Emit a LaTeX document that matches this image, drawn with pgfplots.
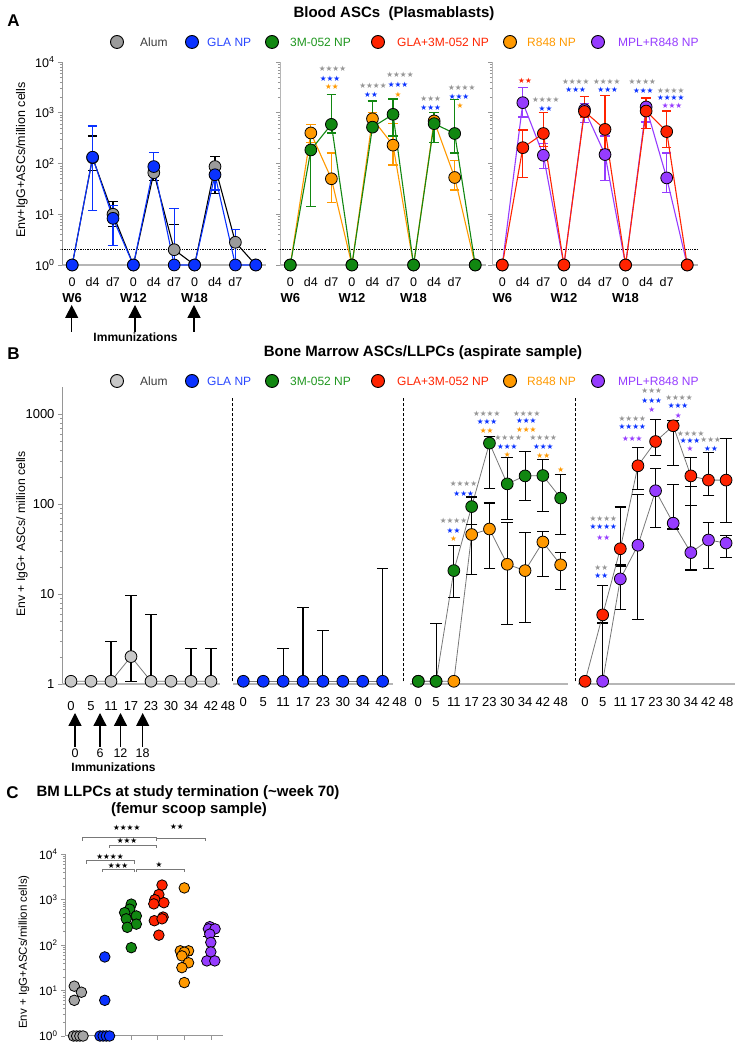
\documentclass[border=0pt]{standalone}
\usepackage{fontspec}
\setmainfont{Liberation Sans}
\newfontfamily\djv{DejaVu Sans}
\usepackage{pgfplots}
\pgfplotsset{compat=1.18}
\usetikzlibrary{arrows.meta}

\definecolor{alumA}{RGB}{155,155,155}
\definecolor{alumB}{RGB}{200,200,200}
\definecolor{alumC}{RGB}{165,165,165}
\definecolor{cblue}{RGB}{10,50,255}
\definecolor{cgreen}{RGB}{17,135,17}
\definecolor{cred}{RGB}{255,35,0}
\definecolor{corange}{RGB}{255,153,0}
\definecolor{cpurple}{RGB}{150,60,255}
\definecolor{tblue}{RGB}{40,70,255}
\definecolor{tgreen}{RGB}{30,150,30}
\definecolor{alumtxt}{RGB}{60,60,60}
\definecolor{stgray}{RGB}{150,150,150}
\definecolor{axgray}{RGB}{150,150,150}
\definecolor{lgray}{RGB}{120,120,120}

\newcommand\wk{\fontsize{13}{15}\selectfont\bfseries}
% significance stars, centred on (x, py) in picture pixels
\newcommand\st[4]{\node[anchor=center, inner sep=0pt, text=#3, font=\djv\fontsize{7.6}{8}\selectfont] at (#1,{1050-(#2)}) {#4};}
\newcommand\brk[3]{\draw[lgray, line width=0.9pt] (#1,{1050-(#3)-3}) -- (#1,{1050-(#3)}) -- (#2,{1050-(#3)}) -- (#2,{1050-(#3)-3});}

\pgfplotsset{
  serA/.style 2 args={color=#1, line width=1.1pt, mark=*, mark size=5.9pt,
    mark options={fill=#2, draw=black, line width=0.8pt},
    error bars/y dir=both, error bars/y explicit,
    error bars/error bar style={color=#1, line width=1.3pt},
    error bars/error mark options={color=#1, rotate=90, mark size=4.8pt, line width=1.3pt}},
  serB/.style={color=lgray, line width=0.8pt, mark=*, mark size=5.9pt,
    mark options={fill=#1, draw=black, line width=0.8pt},
    error bars/y dir=both, error bars/y explicit,
    error bars/error bar style={color=black, line width=1.1pt},
    error bars/error mark options={color=black, rotate=90, mark size=5.8pt, line width=1.1pt}},
  swarm/.style={forget plot, mark=*, only marks, mark size=5.3pt, mark options={fill=#1, draw=black, line width=0.8pt}},
  legkey/.style={only marks, mark=*, mark size=6.5pt, mark options={fill=#1, draw=black, line width=0.9pt}},
}

\begin{document}
\begin{tikzpicture}
\path[use as bounding box] (0pt,0pt) rectangle (743pt,1050pt);

%%%%%%%%%%%%%%%% Panel A
\begin{axis}[at={(62pt,785pt)}, anchor=south west, scale only axis, width=204pt, height=203pt, clip=false,
  ymode=log, ymin=1, ymax=10000, xmin=-0.5, xmax=9.5,
  axis x line*=bottom, axis y line*=left, axis line style={-},
  tick align=outside, major tick length=4pt, minor tick length=2.2pt,
  every tick/.style={axgray, line width=0.6pt}, xtick style={draw=none},
  y axis line style={axgray, line width=0.8pt}, x axis line style={axgray!70, line width=1.8pt},
  tick label style={font=\fontsize{12.5}{14}\selectfont},
  xtick={0,...,8},
  xticklabels={{0\\[2pt]\wk W6}, d4, d7, {0\\[2pt]\wk W12}, d4, d7, {0\\[2pt]\wk W18}, d4, d7},
  xticklabel style={align=center, yshift=-5pt},
  ytick={1,10,100,1000,10000},
  yticklabels={10\textsuperscript{0},10\textsuperscript{1},10\textsuperscript{2},10\textsuperscript{3},10\textsuperscript{4}}]
\addplot[forget plot, black, densely dotted, line width=1.3pt] coordinates {(-0.5,2) (9.5,2)};
\addplot[forget plot, serA={black}{alumA}] coordinates {
 (0,1) (1,130) += (0,220) -= (0,58) (2,10) += (0,8) -= (0,4.3) (3,1)
 (4,66) += (0,34) -= (0,20) (5,2.0) += (0,4.3) -= (0,0.9) (6,1)
 (7,87) += (0,50) -= (0,61) (8,2.8) (9,1)};
\addplot[forget plot, serA={cblue}{cblue}] coordinates {
 (0,1) (1,133) += (0,417) -= (0,121) (2,8.3) += (0,6.7) -= (0,5.9) (3,1)
 (4,87) += (0,78) -= (0,31) (5,1) += (0,12) (6,1)
 (7,60) += (0,35) -= (0,30) (8,1) += (0,4) (9,1)};
\end{axis}

\begin{axis}[at={(280pt,785pt)}, anchor=south west, scale only axis, width=205.5pt, height=203pt, clip=false,
  ymode=log, ymin=1, ymax=10000, xmin=-0.5, xmax=9.5,
  axis x line*=bottom, axis y line*=left, axis line style={-},
  tick align=outside, major tick length=4pt, minor tick length=2.2pt,
  every tick/.style={axgray, line width=0.6pt}, xtick style={draw=none},
  y axis line style={axgray!70, line width=0.8pt}, x axis line style={axgray!70, line width=1.8pt},
  tick label style={font=\fontsize{12.5}{14}\selectfont},
  xtick={0,...,8},
  xticklabels={{0\\[2pt]\wk W6}, d4, d7, {0\\[2pt]\wk W12}, d4, d7, {0\\[2pt]\wk W18}, d4, d7},
  xticklabel style={align=center, yshift=-5pt},
  ytick={1,10,100,1000,10000}, yticklabels={}]
\addplot[forget plot, black, densely dotted, line width=1.3pt] coordinates {(-0.5,2) (9.5,2)};
\addplot[serA={corange}{corange}] coordinates {
 (0,1) (1,400) += (0,190) -= (0,140) (2,50) += (0,110) -= (0,33) (3,1)
 (4,760) += (0,240) -= (0,310) (5,230) += (0,380) -= (0,136) (6,1)
 (7,690) += (0,310) -= (0,430) (8,53) += (0,60) -= (0,23) (9,1)};
\addplot[serA={cgreen}{cgreen}] coordinates {
 (0,1) (1,185) += (0,215) -= (0,171) (2,590) += (0,1710) -= (0,190) (3,1)
 (4,520) += (0,1180) -= (0,80) (5,930) += (0,940) -= (0,580) (6,1)
 (7,610) += (0,390) -= (0,353) (8,390) += (0,1410) -= (0,230) (9,1)};
\end{axis}

\begin{axis}[at={(492pt,785pt)}, anchor=south west, scale only axis, width=205.5pt, height=203pt, clip=false,
  ymode=log, ymin=1, ymax=10000, xmin=-0.5, xmax=9.5,
  axis x line*=bottom, axis y line*=left, axis line style={-},
  tick align=outside, major tick length=4pt, minor tick length=2.2pt,
  every tick/.style={axgray, line width=0.6pt}, xtick style={draw=none},
  y axis line style={axgray!70, line width=0.8pt}, x axis line style={axgray!70, line width=1.8pt},
  tick label style={font=\fontsize{12.5}{14}\selectfont},
  xtick={0,...,8},
  xticklabels={{0\\[2pt]\wk W6}, d4, d7, {0\\[2pt]\wk W12}, d4, d7, {0\\[2pt]\wk W18}, d4, d7},
  xticklabel style={align=center, yshift=-5pt},
  ytick={1,10,100,1000,10000}, yticklabels={}]
\addplot[forget plot, black, densely dotted, line width=1.3pt] coordinates {(-0.5,2) (9.5,2)};
\addplot[serA={cpurple}{cpurple}] coordinates {
 (0,1) (1,1580) += (0,1520) -= (0,750) (2,145) += (0,105) -= (0,65) (3,1)
 (4,1150) += (0,350) -= (0,510) (5,150) += (0,200) -= (0,104) (6,1)
 (7,1300) += (0,200) -= (0,640) (8,52) += (0,108) -= (0,25) (9,1)};
\addplot[serA={cred}{cred}] coordinates {
 (0,1) (1,205) += (0,255) -= (0,152) (2,390) += (0,610) -= (0,175) (3,1)
 (4,1060) += (0,1040) -= (0,230) (5,470) += (0,1730) -= (0,280) (6,1)
 (7,1080) += (0,870) -= (0,590) (8,425) += (0,655) -= (0,220) (9,1)};
\end{axis}

%%%%%%%%%%%%%%%% Panel B
\begin{axis}[at={(62pt,365.7pt)}, anchor=south west, scale only axis, width=170pt, height=297.3pt, clip=false,
  ymode=log, ymin=1, ymax=2000, xmin=-0.45, xmax=8.05,
  axis x line*=bottom, axis y line*=left, axis line style={-},
  tick align=outside, major tick length=4pt, minor tick length=2.2pt,
  every tick/.style={axgray, line width=0.6pt}, xtick style={draw=none},
  y axis line style={axgray, line width=0.8pt}, x axis line style={draw=none},
  tick label style={font=\fontsize{13}{15}\selectfont}, xticklabel style={yshift=-10pt},
  xtick={0,1,2,3,4,5,6,7,7.85}, xticklabels={0,5,11,17,23,30,34,42,48},
  ytick={1,10,100,1000}, yticklabels={1,10,100,1000}]
\draw[axgray!70, line width=1.8pt] (axis cs:-0.45,1) -- (axis cs:7.45,1);
\addplot[forget plot, serB=alumB] coordinates {
 (0,1.08) (1,1.08) (2,1.08) += (0,1.92) (3,2.03) += (0,7.67) -= (0,0.95)
 (4,1.08) += (0,4.82) (5,1.08) (6,1.08) += (0,1.42) (7,1.08) += (0,1.42)};
\end{axis}

\begin{axis}[at={(232pt,365.7pt)}, anchor=south west, scale only axis, width=171.5pt, height=297.3pt, clip=false,
  ymode=log, ymin=1, ymax=2000, xmin=-0.57, xmax=8.05,
  axis x line*=bottom, axis y line*=left, axis line style={-},
  xtick style={draw=none}, ytick=\empty,
  y axis line style={draw=none}, x axis line style={draw=none},
  tick label style={font=\fontsize{13}{15}\selectfont}, xticklabel style={yshift=-10pt},
  xtick={0,1,2,3,4,5,6,7,7.85}, xticklabels={0,5,11,17,23,30,34,42,48}]
\draw[axgray!70, line width=1.8pt] (axis cs:-0.5,1) -- (axis cs:7.5,1);
\draw[black, line width=0.9pt, dash pattern=on 3pt off 2pt] (rel axis cs:0,0.01) -- (rel axis cs:0,0.963);
\addplot[serB=cblue] coordinates {
 (0,1.08) (1,1.08) (2,1.08) += (0,1.42) (3,1.08) += (0,6.0) (4,1.08) += (0,2.9)
 (5,1.08) (6,1.08) (7,1.08) += (0,18.2)};
\end{axis}

\begin{axis}[at={(403.3pt,365.7pt)}, anchor=south west, scale only axis, width=171.6pt, height=297.3pt, clip=false,
  ymode=log, ymin=1, ymax=2000, xmin=-0.84, xmax=8.8,
  axis x line*=bottom, axis y line*=left, axis line style={-},
  xtick style={draw=none}, ytick=\empty,
  y axis line style={draw=none}, x axis line style={draw=none},
  tick label style={font=\fontsize{13}{15}\selectfont}, xticklabel style={yshift=-10pt},
  xtick={0,...,8}, xticklabels={0,5,11,17,23,30,34,42,48}]
\draw[axgray!70, line width=1.8pt] (axis cs:-0.47,1) -- (axis cs:8.4,1);
\draw[black, line width=0.9pt, dash pattern=on 3pt off 2pt] (rel axis cs:0,0.01) -- (rel axis cs:0,0.963);
\addplot[serB=corange] coordinates {
 (0,1.08) (1,1.08) (2,1.08) (3,46) += (0,14) -= (0,29.3) (4,53) += (0,50) -= (0,33.7)
 (5,21.5) += (0,41.5) -= (0,16.9) (6,18.3) += (0,29.7) -= (0,13.5)
 (7,38) += (0,12) -= (0,22.3) (8,21.2) += (0,7.8) -= (0,9.8)};
\addplot[serB=cgreen] coordinates {
 (0,1.08) (1,1.08) += (0,3.7) (2,18.3) += (0,16.7) -= (0,9.1) (3,94) += (0,26) -= (0,34)
 (4,476) += (0,84) -= (0,328) (5,168) += (0,162) -= (0,100) (6,206) += (0,175) -= (0,97)
 (7,208) += (0,103) -= (0,126) (8,117) += (0,95) -= (0,71)};
\end{axis}

\begin{axis}[at={(575pt,365.7pt)}, anchor=south west, scale only axis, width=159.9pt, height=297.3pt, clip=false,
  ymode=log, ymin=1, ymax=2000, xmin=-0.57, xmax=8.5,
  axis x line*=bottom, axis y line*=left, axis line style={-},
  xtick style={draw=none}, ytick=\empty,
  y axis line style={draw=none}, x axis line style={draw=none},
  tick label style={font=\fontsize{13}{15}\selectfont}, xticklabel style={yshift=-10pt},
  xtick={0,...,8}, xticklabels={0,5,11,17,23,30,34,42,48}]
\draw[axgray!70, line width=1.8pt] (axis cs:-0.38,1) -- (axis cs:8.5,1);
\draw[black, line width=0.9pt, dash pattern=on 3pt off 2pt] (rel axis cs:0,0.01) -- (rel axis cs:0,0.963);
\addplot[serB=cpurple] coordinates {
 (1,1.08) += (0,3.7) (2,14.8) += (0,5.8) -= (0,8.1) (3,35) += (0,92) -= (0,29.7)
 (4,141) += (0,110) -= (0,86) (5,61.5) += (0,102.5) -= (0,8.5) (6,29) += (0,128) -= (0,10.4)
 (7,40) += (0,22.5) -= (0,20.5) (8,37) += (0,8) -= (0,11.5)};
\addplot[serB=cred] coordinates {
 (0,1.08) (1,5.9) += (0,6.6) -= (0,1.1) (2,32) += (0,61) -= (0,10.5) (3,267) += (0,163) -= (0,123)
 (4,496) += (0,369) -= (0,150) (5,742) += (0,100) -= (0,475) (6,206) += (0,124) -= (0,109)
 (7,185) += (0,189) -= (0,61) (8,185) += (0,350) -= (0,122.5)};
\end{axis}

%%%%%%%%%%%%%%%% legend keys for A and B
\begin{axis}[at={(110pt,1000pt)}, anchor=south west, scale only axis, width=590pt, height=16pt,
  xmin=0, xmax=590, ymin=0, ymax=16, hide axis, clip=false]
\addplot[legkey=alumA] coordinates {(7,8)};
\addplot[legkey=cblue] coordinates {(82,8)};
\addplot[legkey=cgreen] coordinates {(162,8)};
\addplot[legkey=cred] coordinates {(268,8)};
\addplot[legkey=corange] coordinates {(400,8)};
\addplot[legkey=cpurple] coordinates {(488,8)};
\end{axis}
\begin{axis}[at={(110pt,661pt)}, anchor=south west, scale only axis, width=590pt, height=16pt,
  xmin=0, xmax=590, ymin=0, ymax=16, hide axis, clip=false]
\addplot[legkey=alumB] coordinates {(7,8)};
\addplot[legkey=cblue] coordinates {(82,8)};
\addplot[legkey=cgreen] coordinates {(162,8)};
\addplot[legkey=cred] coordinates {(268,8)};
\addplot[legkey=corange] coordinates {(400,8)};
\addplot[legkey=cpurple] coordinates {(488,8)};
\end{axis}

%%%%%%%%%%%%%%%% Panel C
\begin{axis}[at={(65pt,14pt)}, anchor=south west, scale only axis, width=158pt, height=181.7pt, clip=false,
  ymode=log, ymin=1, ymax=10000, xmin=-0.5, xmax=5.46,
  axis x line*=bottom, axis y line*=left, axis line style={-},
  tick align=outside, major tick length=4pt, minor tick length=2.2pt,
  every tick/.style={axgray, line width=0.6pt},
  y axis line style={axgray, line width=0.8pt}, x axis line style={axgray, line width=1pt},
  tick label style={font=\fontsize{12}{14}\selectfont},
  xtick={0,...,5}, xticklabels={},
  ytick={1,10,100,1000,10000},
  yticklabels={10\textsuperscript{0},10\textsuperscript{1},10\textsuperscript{2},10\textsuperscript{3},10\textsuperscript{4}}]
\addplot[swarm=alumC] coordinates {(-0.15,12.5) (0.12,9.2) (-0.15,6.1) (-0.18,1) (-0.06,1) (0.06,1) (0.18,1)};
\addplot[swarm=cblue] coordinates {(1,55) (1,6.1) (0.82,1) (0.94,1) (1.06,1) (1.18,1)};
\addplot[swarm=cgreen] coordinates {(2,800) (1.94,620) (1.75,520) (2.19,440) (1.81,380) (2.19,290) (1.85,247) (2,88)};
\addplot[swarm=cred] coordinates {(3.16,2100) (3.04,1300) (2.89,1000) (3.23,860) (2.85,810) (3.2,415) (2.87,345) (3.16,380) (3.04,166)};
\addplot[swarm=corange] coordinates {(4,1820) (3.85,75) (4.16,75) (4,70) (3.91,58) (4.16,41) (3.91,32) (4,15)};
\addplot[swarm=cpurple] coordinates {(4.96,255) (4.91,228) (5.16,228) (4.96,175) (5.0,115) (5.0,71) (4.85,45) (5.15,45)};
% medians
\addplot[forget plot, black, line width=1.3pt] coordinates {(-0.32,1) (0.32,1)};
\addplot[forget plot, black, line width=1.3pt] coordinates {(0.68,1) (1.32,1)};
\addplot[forget plot, black, line width=1.3pt] coordinates {(1.7,450) (2.3,450)};
\addplot[forget plot, black, line width=1.3pt] coordinates {(2.7,740) (3.3,740)};
\addplot[forget plot, black, line width=1.3pt] coordinates {(3.7,60) (4.3,60)};
\addplot[forget plot, black, line width=1.3pt] coordinates {(4.7,155) (5.3,155)};
\end{axis}

%%%%%%%%%%%%%%%% texts and annotations (1 unit = 1 pixel of the reference)
\begin{scope}[x=1pt, y=1pt]
\begin{scope}[every node/.style={inner sep=0pt}]
\node[font=\fontsize{17}{17}\selectfont\bfseries] at (13.5,{1050-20.5}) {A};
\node[font=\fontsize{17}{17}\selectfont\bfseries] at (13.5,{1050-354}) {B};
\node[font=\fontsize{17}{17}\selectfont\bfseries] at (12.5,{1050-793}) {C};
\node[font=\fontsize{15}{15}\selectfont\bfseries] at (394,{1050-14}) {Blood ASCs\ \ (Plasmablasts)};
\node[font=\fontsize{15}{15}\selectfont\bfseries] at (423,{1050-352.5}) {Bone Marrow ASCs/LLPCs (aspirate sample)};
\node[font=\fontsize{15}{15}\selectfont\bfseries] at (188,{1050-793}) {BM LLPCs at study termination (\textasciitilde week 70)};
\node[font=\fontsize{15}{15}\selectfont\bfseries] at (189,{1050-810}) {(femur scoop sample)};
\node[rotate=90, font=\fontsize{12.5}{14}\selectfont] at (22,{1050-160}) {Env+IgG+ASCs/million cells};
\node[rotate=90, font=\fontsize{12.2}{14}\selectfont] at (22,{1050-534}) {Env + IgG+ ASCs/ million cells};
\node[rotate=90, font=\fontsize{11.5}{14}\selectfont] at (24,{1050-952}) {Env + IgG+ASCs/million cells)};
% legend texts
\foreach \y in {42,381} {
  \node[anchor=west, font=\fontsize{12}{14}\selectfont, text=alumtxt] at (140,{1050-\y}) {Alum};
  \node[anchor=west, font=\fontsize{12}{14}\selectfont, text=tblue] at (207,{1050-\y}) {GLA NP};
  \node[anchor=west, font=\fontsize{12}{14}\selectfont, text=tgreen] at (290,{1050-\y}) {3M-052 NP};
  \node[anchor=west, font=\fontsize{12}{14}\selectfont, text=cred] at (397,{1050-\y}) {GLA+3M-052 NP};
  \node[anchor=west, font=\fontsize{12}{14}\selectfont, text=corange] at (527,{1050-\y}) {R848 NP};
  \node[anchor=west, font=\fontsize{12}{14}\selectfont, text=cpurple] at (618,{1050-\y}) {MPL+R848 NP};
}
% immunization arrows A
\foreach \x in {71.7,135,194}
  \draw[-{Triangle[width=13pt,length=13pt]}, line width=1.3pt] (\x,{1050-331.7}) -- (\x,{1050-305});
\node[font=\fontsize{12}{14}\selectfont\bfseries] at (135.5,{1050-337.5}) {Immunizations};
% immunization arrows B
\foreach \x/\l in {75/0,100/6,120.5/12,142.7/18} {
  \draw[-{Triangle[width=13pt,length=13pt]}, line width=1.3pt] (\x,{1050-746.7}) -- (\x,{1050-713});
  \node[font=\fontsize{12.5}{14}\selectfont] at (\x,{1050-753}) {\l};
}
\node[font=\fontsize{12}{14}\selectfont\bfseries] at (113.5,{1050-767}) {Immunizations};
\end{scope}

% stars panel A
\st{332.5}{68.3}{stgray}{★★★★}\st{330}{78.3}{cblue}{★★★}\st{332}{86.7}{corange}{★★}
\st{373}{86}{stgray}{★★★★}\st{371}{95}{cblue}{★★}
\st{400}{75}{stgray}{★★★★}\st{398}{85}{cblue}{★★★}\st{398}{94.3}{corange}{★}
\st{430.7}{99}{stgray}{★★★}\st{430.7}{107.7}{cblue}{★★★}
\st{461.7}{87.3}{stgray}{★★★★}\st{459}{96.7}{cblue}{★★★}\st{460}{106}{corange}{★}
\st{525}{81}{cred}{★★}
\st{545.7}{99.3}{stgray}{★★★★}\st{545.5}{108.3}{cblue}{★★}
\st{575.7}{81.7}{stgray}{★★★★}\st{575.7}{90}{cblue}{★★★}
\st{606.7}{81.7}{stgray}{★★★★}\st{607.7}{89.3}{cblue}{★★★}
\st{642.3}{81.7}{stgray}{★★★★}\st{643.3}{90.7}{cblue}{★★★}
\st{670.7}{90.7}{stgray}{★★★★}\st{670.7}{97.7}{cblue}{★★★★}\st{672}{105.3}{cpurple}{★★★}
% stars panel B
\st{453.5}{520.7}{stgray}{★★★★}\st{453.5}{530.7}{cblue}{★★}\st{453.5}{539}{corange}{★}
\st{463.5}{483.3}{stgray}{★★★★}\st{463.7}{493.3}{cblue}{★★★}
\st{486.7}{413.3}{stgray}{★★★★}\st{487}{421.7}{cblue}{★★★}\st{486.7}{430.7}{corange}{★★}
\st{508.3}{437.7}{stgray}{★★★★}\st{507.3}{446.7}{cblue}{★★★}\st{507.3}{454.3}{corange}{★}
\st{526.7}{413.3}{stgray}{★★★★}\st{526.3}{420.7}{cblue}{★★★}\st{526.3}{429.3}{corange}{★★★}
\st{543.3}{437.7}{stgray}{★★★★}\st{543.3}{446.7}{cblue}{★★★}\st{543.3}{455.7}{corange}{★★}
\st{560.7}{470}{corange}{★}
\st{601.3}{567.3}{stgray}{★★}\st{601.3}{576}{cblue}{★★}
\st{603.3}{518.3}{stgray}{★★★★}\st{603.3}{526.7}{cblue}{★★★★}\st{603.3}{537.3}{cpurple}{★★}
\st{632.3}{418.3}{stgray}{★★★★}\st{632.3}{426.7}{cblue}{★★★★}\st{632.3}{438.3}{cpurple}{★★★}
\st{651.7}{391}{stgray}{★★★}\st{651.7}{400.7}{cblue}{★★★}\st{651.7}{409.3}{cpurple}{★}
\st{679}{397.7}{stgray}{★★★★}\st{678}{406}{cblue}{★★★}\st{678.3}{416}{cpurple}{★}
\st{690.7}{434}{stgray}{★★★★}\st{690}{441}{cblue}{★★★}\st{690}{449}{cpurple}{★}
\st{710.7}{439.3}{stgray}{★★★}\st{711}{448.3}{cblue}{★★}
% panel C brackets
\brk{82.7}{156}{837.7}\brk{156.7}{205}{838}\brk{109}{156}{845}
\brk{86}{134}{860.7}\brk{102.7}{134}{869}\brk{136}{184}{869}
\st{126.7}{827.3}{black}{★★★★}\st{177}{826.7}{black}{★★}\st{127}{841}{black}{★★★}
\st{110}{856.7}{black}{★★★★}\st{118}{865.7}{black}{★★★}\st{159}{865}{black}{★}
\end{scope}
\end{tikzpicture}
\end{document}
